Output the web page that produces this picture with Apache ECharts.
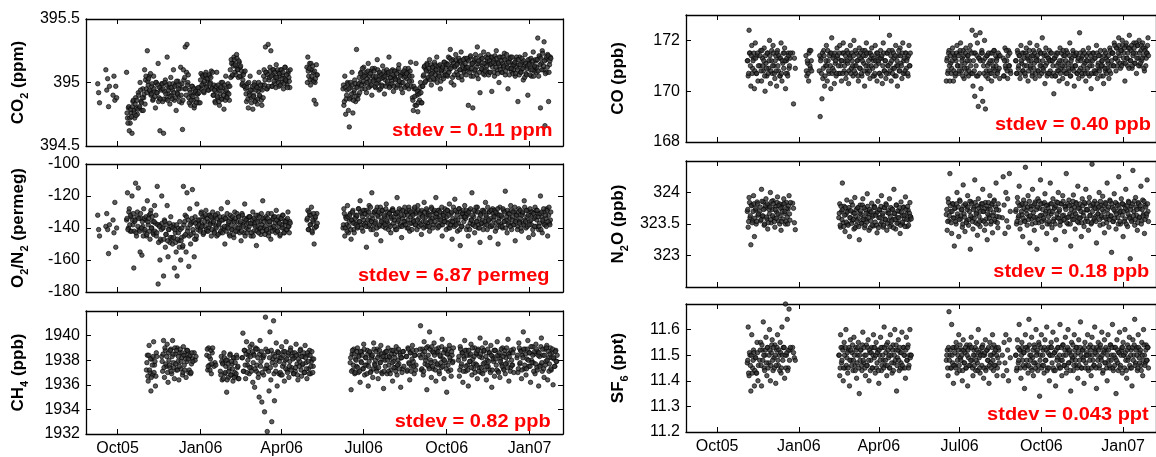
<!DOCTYPE html>
<html>

<head>
    <meta charset="utf-8">
    <title>stdev of flask records</title>
    <style>
        html, body { margin: 0; padding: 0; background: #fff; overflow: hidden; }
        #main { width: 1156px; height: 457px; }
    </style>
</head>

<body>
    <div id="main"></div>
    <script type="text/javascript" src="https://cdn.jsdelivr.net/npm/echarts@6.0.0/dist/echarts.min.js"></script>
    <script type="text/javascript">
        // time axis, shared by all panels
        var axisStart = '2005-08-27';
        var axisEnd = '2007-02-07';
        var tickDates = ['2005-10-01', '2006-01-01', '2006-04-01', '2006-07-01', '2006-10-01', '2007-01-01'];
        var tickNames = ['Oct05', 'Jan06', 'Apr06', 'Jul06', 'Oct06', 'Jan07'];

        // y ticks
        var co2Ticks = [394.5, 395, 395.5];
        var o2Ticks = [-180, -160, -140, -120, -100];
        var ch4Ticks = [1932, 1934, 1936, 1938, 1940];
        var coTicks = [168, 170, 172];
        var n2oTicks = [323, 323.5, 324];
        var sf6Ticks = [11.2, 11.3, 11.4, 11.5, 11.6];

        var stdevNotes = ['stdev = 0.11 ppm', 'stdev = 6.87 permeg', 'stdev = 0.82 ppb',
            'stdev = 0.40 ppb', 'stdev = 0.18 ppb', 'stdev = 0.043 ppt'];

        // each run: first day, then one reading per day (Am = 00h, Pm = 12h)
        var co2RunsAm = [
            ['2005-09-09', [394.99, 394.92, 394.84]],
            ['2005-09-18', [395.1, 394.94, 395.03, 394.81, 394.97]],
            ['2005-09-26', [394.9, 395.05, 394.86, 394.97, 394.88]],
            ['2005-10-11', [395.08, 394.72, 394.8, 394.62, 394.68,
                394.76, 394.6, 394.85, 394.78, 394.72, 394.88, 394.8, 394.75,
                394.92, 394.8, 395.0, 394.85, 394.78, 394.95, 394.88, 395.1,
                395.02, 394.95, 395.25, 394.98, 395.05, 394.93,
                394.9, 394.97, 394.86, 395.05, 394.93, 394.8, 395.0, 394.92, 395.15, 394.88, 394.62, 394.95, 394.99, 394.85, 394.6, 394.93, 395.02, 394.87,
                395.2, 394.91, 394.96, 394.83, 395.04, 394.9, 394.94, 395.1, 394.86, 394.98, 394.78, 394.92, 395.01, 394.89, 394.95, 395.12, 394.84, 394.63,
                395.1, 394.95, 395.28, 394.9, 395.3, 395.0,
                394.88, 394.94, 394.82, 394.9, 394.97, 394.86, 394.8, 394.92, 394.95, 394.87, 394.91, 394.84, 394.96,
                395.02, 394.95, 395.06, 394.99, 394.92, 395.04, 395.08, 394.97, 395.01, 394.94, 395.05, 395.0, 395.09, 394.96,
                394.9, 394.98, 394.85, 394.93, 395.08, 394.88, 394.95, 394.82, 394.91, 395.0, 394.87, 394.96, 394.79, 394.93, 395.05, 394.89, 394.92, 394.97, 394.86,
                395.1, 395.18, 395.05, 395.15, 395.2, 395.08, 395.13, 395.22, 395.1, 395.04, 395.16, 395.12,
                395.05, 394.98, 395.02, 395.08, 394.97,
                394.95, 394.85, 394.99, 394.8, 394.92, 395.05, 394.88, 394.94, 394.79, 394.9, 395.0, 394.86, 394.97, 394.83, 394.93, 395.08, 394.89, 394.95, 394.82, 394.98,
                395.05, 394.98, 395.28, 395.08, 394.95, 395.3, 395.02, 395.12, 395.25, 394.97, 395.06, 395.1, 394.99, 395.04, 395.14,
                395.02, 395.08, 394.97, 395.05, 395.1, 395.0, 395.06, 394.95, 395.03, 395.12, 395.01, 394.98, 395.07, 395.04, 394.96]],
            ['2006-04-29', [395.12, 395.2, 395.05, 395.15, 394.98, 395.1, 395.02, 395.08, 394.86, 395.0, 394.83, 395.06]],
            ['2006-06-08', [394.95, 394.82, 395.05, 394.75, 394.9, 395.0, 394.78, 394.65, 394.96, 394.88, 395.08, 394.76, 394.92, 395.02, 394.85, 395.26, 394.97, 394.9, 395.04,
                395.0, 395.08, 394.95, 395.04, 395.12, 394.99, 395.06, 394.92, 395.03, 395.15, 395.01, 394.97, 395.09, 394.9, 395.05, 395.02, 395.11, 394.96, 395.04, 395.18,
                395.0, 394.94, 395.07, 395.03, 394.98, 395.13, 395.05, 394.91, 395.02, 395.08, 394.99, 395.06, 395.2, 394.97, 395.04, 395.01, 395.1, 394.93, 395.05, 395.03,
                394.96, 395.09, 395.02, 395.14, 394.98, 395.06, 395.0, 394.92, 395.07, 395.04, 395.11, 394.97, 395.03, 395.08, 394.95, 395.05, 395.16, 395.01,
                394.88, 394.78, 394.95, 394.82, 395.15, 394.9, 394.77, 394.93, 394.86, 395.0, 394.84, 394.97,
                395.05, 395.12, 395.0, 395.1, 395.15, 395.03, 395.09, 395.18, 395.06, 394.98, 395.12, 395.08, 395.02, 395.14, 395.1, 395.2, 395.04, 395.07, 395.13, 394.95, 395.09, 395.11, 395.05, 395.16, 395.08, 395.12,
                395.15, 395.05, 395.2, 395.1, 395.26, 395.0, 395.13, 395.18, 394.98, 395.12, 395.22, 395.08, 395.15, 395.04, 395.17, 395.1, 395.24, 395.02, 395.14, 395.09, 395.19, 395.11,
                395.12, 395.18, 394.82, 395.1, 395.2, 395.05, 395.14, 394.8, 395.16, 395.09, 395.22, 395.12, 395.28, 395.03, 395.15, 394.92, 395.18, 395.1, 395.13, 395.24, 395.06, 395.15,
                395.1, 395.17, 395.22, 395.08, 395.14, 395.2, 394.93, 395.12, 395.18, 395.05, 395.15, 395.25, 395.1, 395.16, 395.0, 395.13, 395.2, 395.08, 395.15, 395.12, 395.23, 395.06, 395.14, 395.18, 394.95, 395.11, 395.16, 395.2, 395.09, 395.13,
                395.1, 395.15, 395.05, 395.18, 395.12, 394.85, 395.14, 395.2, 395.08, 395.1, 395.16, 395.02, 395.13, 395.22, 395.07, 395.11, 394.9, 395.15, 395.18, 395.1, 395.05, 395.14, 395.24, 395.09, 395.12, 395.17,
                395.12, 395.35, 395.05, 395.2, 394.8, 395.15, 395.25, 395.1, 395.32, 394.66, 395.18, 395.08, 395.22, 394.85, 395.14, 395.2]]
        ];
        var co2RunsPm = [
            ['2005-10-11', [394.76, 394.68, 394.81, 394.72, 394.79,
                394.73, 394.81, 394.86, 394.76, 394.83, 394.74, 394.86, 394.79,
                394.9, 394.81, 394.94, 394.84, 394.88, 394.78, 394.91, 394.83,
                395.05, 394.92, 395.01, 395.03, 394.94, 395.07,
                394.91, 394.99, 394.87, 394.95, 394.89, 395.0, 394.92, 394.98, 394.85, 394.96, 394.87, 394.94, 394.99, 394.95, 394.87, 395.0, 394.91, 394.98,
                394.86, 394.94, 394.99, 394.89, 394.96, 394.87, 394.99, 394.92, 394.97, 394.88, 395.01, 394.91, 394.95, 394.85, 394.98, 394.9, 394.99, 394.86,
                395.02, 395.04, 394.95, 395.08, 394.98, 395.06,
                394.84, 394.92, 394.86, 394.97, 394.89, 394.95, 394.82, 394.93, 394.84, 394.91, 394.96, 394.92, 394.84,
                395.07, 394.98, 395.05, 394.93, 395.01, 395.06, 394.96, 395.03, 394.94, 395.06, 394.99, 395.04, 394.95, 395.08,
                394.9, 394.94, 394.84, 394.97, 394.89, 394.98, 394.85, 394.94, 394.96, 394.87, 395.0, 394.9, 394.98, 394.86, 394.94, 394.88, 394.99, 394.91, 394.97,
                395.04, 395.15, 395.06, 395.13, 395.18, 395.14, 395.06, 395.19, 395.1, 395.17, 395.05, 395.13,
                395.09, 394.99, 395.06, 394.97, 395.09,
                394.91, 394.96, 394.87, 395.0, 394.9, 394.94, 394.84, 394.97, 394.89, 394.98, 394.85, 394.94, 394.96, 394.87, 395.0, 394.9, 394.98, 394.86, 394.94, 394.88,
                395.1, 395.02, 395.08, 394.95, 395.06, 394.97, 395.04, 395.09, 395.05, 394.97, 395.1, 395.01, 395.08, 394.96, 395.04,
                395.1, 395.0, 395.07, 394.98, 395.1, 395.03, 395.08, 394.99, 395.12, 395.02, 395.06, 394.96, 395.09, 395.01, 395.1]],
            ['2006-04-29', [395.0, 395.09, 395.11, 395.02, 395.15, 395.05, 395.13, 395.01, 395.09, 395.03, 395.14, 395.06]],
            ['2006-06-08', [394.98, 394.85, 394.96, 394.87, 394.94, 394.99, 394.95, 394.87, 395.0, 394.91, 394.98, 394.86, 394.94, 394.99, 394.89, 394.96, 394.87, 394.99, 394.92,
                395.07, 394.98, 395.11, 395.01, 395.05, 394.95, 395.08, 395.0, 395.09, 394.96, 395.05, 395.07, 394.98, 395.11, 395.01, 395.09, 394.97, 395.05, 394.99, 395.1,
                395.02, 395.08, 394.95, 395.06, 394.97, 395.04, 395.09, 395.05, 394.97, 395.1, 395.01, 395.08, 394.96, 395.04, 395.09, 394.99, 395.06, 394.97, 395.09, 395.02,
                395.07, 394.98, 395.11, 395.01, 395.05, 394.95, 395.08, 395.0, 395.09, 394.96, 395.05, 395.07, 394.98, 395.11, 395.01, 395.09, 394.97, 395.05,
                394.86, 394.97, 394.89, 394.95, 394.82, 394.93, 394.84, 394.91, 394.96, 394.92, 394.84, 394.97,
                395.06, 395.13, 395.01, 395.09, 395.14, 395.04, 395.11, 395.02, 395.14, 395.07, 395.12, 395.03, 395.16, 395.06, 395.1, 395.0, 395.13, 395.05, 395.14, 395.01, 395.1, 395.12, 395.03, 395.16, 395.06, 395.14,
                395.06, 395.14, 395.08, 395.19, 395.11, 395.17, 395.04, 395.15, 395.06, 395.13, 395.18, 395.14, 395.06, 395.19, 395.1, 395.17, 395.05, 395.13, 395.18, 395.08, 395.15, 395.06,
                395.19, 395.12, 395.17, 395.08, 395.21, 395.11, 395.15, 395.05, 395.18, 395.1, 395.19, 395.06, 395.15, 395.17, 395.08, 395.21, 395.11, 395.19, 395.07, 395.15, 395.09, 395.2,
                395.13, 395.19, 395.06, 395.17, 395.08, 395.15, 395.2, 395.16, 395.08, 395.21, 395.12, 395.19, 395.07, 395.15, 395.2, 395.1, 395.17, 395.08, 395.2, 395.13, 395.18, 395.09, 395.22, 395.12, 395.16, 395.06, 395.19, 395.11, 395.2, 395.07,
                395.14, 395.16, 395.07, 395.2, 395.1, 395.18, 395.06, 395.14, 395.08, 395.19, 395.11, 395.17, 395.04, 395.15, 395.06, 395.13, 395.18, 395.14, 395.06, 395.19, 395.1, 395.17, 395.05, 395.13, 395.18, 395.08,
                395.18, 395.09, 395.21, 395.14, 395.19, 395.1, 395.23, 395.13, 395.17, 395.07, 395.2, 395.12, 395.21, 395.08, 395.17, 395.19]]
        ];

        var o2RunsAm = [
            ['2005-09-09', [-132, -141, -145]],
            ['2005-09-18', [-139, -131, -141, -156, -138]],
            ['2005-09-26', [-135, -143, -124, -152, -140]],
            ['2005-10-11', [-135, -118, -140, -128, -142, -133, -120, -138,
                -165, -136, -112, -145, -130, -115, -141, -155, -134, -157,
                -139, -128, -142, -135, -145, -123, -138, -132, -147, -129, -140, -136, -144, -126, -137,
                -145, -114, -175, -138, -160, -148, -120, -140, -170, -135, -152, -144, -126, -158, -141, -149, -133, -146,
                -150, -138, -165, -143, -155, -170, -140, -148, -136, -160, -146, -152,
                -114, -145, -132, -155, -118, -140, -164, -128, -150, -137, -116, -143, -158, -133, -147, -125, -141, -136,
                -135, -141, -130, -138, -144, -133, -139, -129, -142, -136, -140, -132, -137, -145, -134,
                -137, -142, -133, -139, -145, -131, -138, -136, -143, -128, -140, -135, -141, -150, -134, -139, -124, -137, -144, -132,
                -138, -141, -135, -146, -130, -139, -136, -142, -133, -140, -137, -148, -131, -138, -143, -125, -136, -140, -134, -141,
                -139, -133, -145, -137, -130, -142, -138, -135, -151, -139, -132, -141, -136, -144, -138, -123, -140, -134, -139, -142,
                -136, -131, -143, -138, -147, -135, -140, -133, -141, -137, -129, -142, -136, -139, -145, -134, -138, -132, -140, -143,
                -137, -135, -141, -130, -139, -136]],
            ['2006-04-29', [-135, -129, -141, -132, -138, -127, -143, -136, -150, -134, -139, -131]],
            ['2006-06-08', [-140, -128, -145, -133, -138, -126, -143, -136, -131, -147, -135, -129, -141, -137, -132,
                -133, -140, -128, -136, -123, -138, -131, -142, -135, -129, -137, -152, -132, -139, -126, -135, -141, -118, -134, -138,
                -130, -136, -144, -127, -133, -139, -131, -148, -135, -129, -137, -133, -140, -125, -136, -132, -138, -130, -143, -134,
                -128, -137, -135, -141, -131, -121, -136, -133, -139, -129, -146, -134, -138, -132, -136, -130, -140, -135, -127, -142,
                -133, -137, -131,
                -135, -128, -138, -131, -141, -126, -134, -137, -130, -144, -132, -136, -124, -139, -133, -129, -137, -131, -142, -135,
                -127, -134, -138, -130, -136, -121, -133, -140, -129, -135, -132, -138, -145, -131, -134, -128, -136,
                -133, -129, -140, -125, -136, -131, -147, -134, -138, -122, -135, -130, -142, -137, -128, -151, -133, -139, -131, -136,
                -126, -134, -141, -132, -145, -129, -137, -135, -118, -138, -133, -143, -130, -136, -127, -140, -134, -149, -131, -137,
                -135, -129, -138, -124, -133, -141, -136, -130, -146, -134, -139, -128, -135, -132, -142, -137, -131, -150, -134, -127,
                -138, -133, -140, -129, -136, -117, -135, -143, -131, -137, -134, -126, -141, -133, -138, -130, -148, -135, -132, -139,
                -128, -136, -134, -142, -131, -137, -123, -135, -140, -133, -129, -146, -136, -132, -138, -130, -144, -134, -127, -139,
                -135, -131, -141, -137, -120, -133, -143, -136, -130, -138, -134, -128, -145, -132, -137, -135]]
        ];
        var o2RunsPm = [
            ['2005-10-11', [-134, -141, -130, -138, -132, -142, -135, -131,
                -142, -135, -143, -133, -139, -134, -142, -131, -140, -136,
                -145, -134, -141, -133, -144, -136, -134, -142, -131, -140, -133, -143, -136, -142, -132,
                -143, -138, -149, -139, -147, -141, -137, -140, -147, -136, -144, -138, -148, -141, -137, -146, -139, -147,
                -140, -146, -141, -149, -138, -147, -143, -152, -141, -148, -140, -151,
                -138, -136, -144, -133, -142, -135, -145, -138, -144, -134, -141, -136, -147, -137, -145, -139, -135, -138,
                -142, -131, -139, -133, -143, -136, -132, -141, -134, -142, -132, -138, -133, -141, -130,
                -136, -143, -132, -140, -134, -144, -137, -133, -142, -135, -143, -133, -139, -134, -142, -131, -140, -136, -145, -134,
                -141, -133, -144, -136, -134, -142, -131, -140, -133, -143, -136, -142, -132, -139, -134, -145, -135, -143, -137, -133,
                -133, -137, -143, -135, -145, -134, -139, -132, -142, -136, -143, -133, -140, -131, -142, -134, -136, -144, -133, -141,
                -134, -145, -136, -140, -131, -142, -134, -139, -133, -143, -135, -142, -133, -137, -144, -134, -140, -132, -143, -136,
                -136, -141, -134, -139, -143, -137]],
            ['2006-04-29', [-134, -141, -130, -138, -132, -142, -135, -131, -140, -133, -139, -137]],
            ['2006-06-08', [-138, -131, -140, -134, -142, -133, -139, -132, -141, -135, -130, -137, -143, -134, -138,
                -132, -139, -128, -136, -130, -140, -133, -129, -138, -131, -139, -129, -135, -130, -138, -127, -136, -132, -141, -130,
                -137, -129, -140, -132, -130, -138, -127, -136, -129, -139, -132, -138, -128, -135, -130, -141, -131, -139, -133, -129,
                -129, -133, -139, -131, -141, -130, -135, -128, -138, -132, -139, -129, -136, -127, -138, -130, -132, -140, -129, -137,
                -130, -141, -132, -136, -127, -138, -130, -135, -129, -139, -131, -138, -129, -133, -140, -130, -136, -128, -139, -132,
                -139, -132, -136, -128, -140, -130, -129, -133, -131, -138, -129, -139, -130, -135, -127, -138, -132, -136, -130, -141,
                -129, -137, -132, -140, -138, -130, -136, -127, -139, -129, -138, -132, -135, -128, -141, -130, -139, -131, -129, -133,
                -133, -129, -131, -139, -130, -141, -128, -135, -132, -138, -129, -139, -127, -136, -130, -138, -140, -132, -137, -129,
                -141, -130, -136, -132, -138, -127, -135, -130, -139, -129, -138, -131, -133, -129, -130, -140, -128, -136, -132, -139,
                -132, -139, -128, -136, -130, -140, -133, -129, -138, -131, -139, -129, -135, -130, -138, -127, -136, -132, -141, -130,
                -137, -129, -140, -132, -130, -138, -127, -136, -129, -139, -132, -138, -128, -135, -130, -141, -131, -139, -133, -129,
                -129, -133, -139, -131, -141, -130, -135, -128, -138, -132, -139, -129, -136, -127, -138, -130]]
        ];

        var ch4RunsAm = [
            ['2005-11-02', [1937.2, 1938.4, 1936.3, 1939.2, 1937.0, 1935.5, 1938.1, 1936.8, 1939.5, 1937.6, 1935.9, 1938.6]],
            ['2005-11-19', [1938.3, 1937.1, 1939.6, 1936.6, 1938.8, 1937.5, 1939.3, 1936.2, 1938.0, 1937.4,
                1938.9, 1936.9, 1939.6, 1937.8, 1936.5, 1938.5, 1937.2, 1939.0, 1937.9, 1936.4,
                1938.6, 1937.3, 1938.2, 1936.8, 1939.1, 1937.6, 1938.4, 1936.6, 1937.9, 1938.7,
                1937.0, 1938.3, 1936.9, 1937.7, 1938.1]],
            ['2005-12-25', [1938.6, 1938.0, 1938.3]],
            ['2006-01-08', [1938.4, 1937.2, 1939.0, 1937.6, 1938.1, 1936.9, 1938.6]],
            ['2006-01-16', [1937.5, 1937.8, 1937.6]],
            ['2006-01-23', [1937.1, 1938.3, 1936.4, 1937.8, 1938.6, 1936.9, 1937.5, 1935.4, 1938.0, 1936.6, 1937.3, 1938.5, 1936.8, 1937.7, 1936.3, 1938.2, 1937.0, 1936.7, 1938.4, 1937.4, 1936.5]],
            ['2006-02-16', [1938.2, 1940.2, 1937.1, 1938.8, 1936.5, 1939.5, 1937.6, 1938.4, 1936.9, 1939.1,
                1937.4, 1939.3, 1936.2, 1938.5, 1935.8, 1939.0, 1937.1, 1938.9, 1936.6, 1935.0,
                1939.6, 1937.9, 1934.6, 1938.3, 1936.8, 1933.8, 1941.5, 1937.3, 1932.2, 1938.7,
                1935.5, 1940.3, 1936.4, 1933.0, 1938.1, 1941.2, 1934.7, 1937.6, 1939.4, 1935.9, 1938.6, 1936.9,
                1938.2, 1936.8, 1939.1, 1937.5, 1938.7, 1936.3, 1938.0, 1939.5, 1937.2, 1938.4,
                1936.6, 1937.9, 1939.0, 1937.4, 1938.6, 1936.9, 1938.2, 1937.1, 1939.3, 1937.7,
                1936.4, 1938.5, 1937.9, 1938.9, 1936.7, 1937.6, 1938.3, 1937.0, 1939.2, 1937.8,
                1936.5, 1938.4, 1937.3, 1938.8, 1936.9, 1937.9, 1938.1, 1937.5]],
            ['2006-06-16', [1937.8, 1935.6, 1938.5, 1937.2, 1938.9, 1936.9, 1938.1, 1937.5, 1939.0, 1937.0, 1938.4, 1936.2, 1937.9, 1938.7, 1937.3, 1939.3, 1936.8, 1938.2, 1937.6, 1938.8,
                1935.9, 1937.9, 1938.6, 1937.1, 1938.3, 1936.6, 1939.4, 1937.7, 1938.0, 1937.3, 1938.9, 1936.5, 1938.4, 1937.8, 1939.2, 1937.0, 1938.1, 1935.7, 1938.6, 1937.5,
                1938.3, 1936.9, 1939.0, 1937.6, 1938.2, 1937.2, 1938.8, 1936.3, 1937.9, 1938.5, 1937.4, 1939.1, 1936.8, 1938.0, 1937.7, 1938.6, 1935.8, 1938.2, 1937.3, 1938.7]],
            ['2006-08-17', [1938.3, 1937.1, 1939.0, 1937.8, 1936.4, 1938.6, 1937.5, 1939.2, 1937.9, 1936.9, 1938.4, 1937.6]],
            ['2006-09-01', [1938.4, 1940.8, 1937.2, 1938.9, 1936.8, 1939.5, 1937.7, 1938.2, 1935.6, 1939.1, 1937.5, 1940.3, 1938.0, 1936.6, 1938.7, 1937.3, 1939.4, 1937.9, 1936.3, 1938.6,
                1937.6, 1939.0, 1936.9, 1938.3, 1937.4, 1939.7, 1938.1, 1936.5, 1938.8, 1937.8, 1935.4, 1938.5, 1937.1, 1939.2, 1938.0, 1936.7, 1938.4, 1937.9]],
            ['2006-10-14', [1938.0, 1936.7, 1939.1, 1937.5, 1938.6, 1936.2, 1938.3, 1939.6, 1937.1, 1938.8, 1937.6, 1935.9, 1938.4, 1937.9, 1939.3, 1936.8, 1938.1, 1937.3, 1939.0, 1937.7,
                1938.5, 1936.5, 1938.9, 1937.4, 1939.8, 1937.0, 1938.2, 1936.9, 1938.7, 1937.8, 1939.4, 1936.4, 1938.0, 1937.5, 1938.6, 1937.2, 1939.2, 1935.8, 1938.3, 1937.9,
                1936.7, 1938.8, 1937.6, 1939.5, 1937.1, 1938.4, 1936.6, 1938.1, 1937.7, 1939.0, 1937.3, 1938.5, 1936.9, 1938.2, 1937.8, 1939.7, 1936.3, 1938.6, 1937.4, 1938.0,
                1937.6, 1938.9]],
            ['2006-12-18', [1938.2, 1937.0, 1939.4, 1937.7, 1938.8, 1936.5, 1938.4, 1940.3, 1937.3, 1938.9, 1936.8, 1938.1, 1939.6, 1937.5, 1938.6, 1936.2, 1938.0, 1939.1, 1937.8, 1938.5,
                1936.9, 1939.3, 1937.4, 1938.7, 1935.9, 1938.3, 1937.6, 1939.8, 1937.1, 1938.4, 1936.6, 1938.9, 1937.9, 1939.2, 1936.4, 1938.2, 1937.7, 1939.0, 1937.2, 1938.6,
                1936.0, 1938.1, 1937.5, 1938.8, 1937.9]]
        ];
        var ch4RunsPm = [
            ['2005-11-02', [1937.8, 1936.7, 1938.4, 1937.2, 1938.1, 1936.6, 1937.6, 1938.3, 1937.0, 1937.9, 1936.7, 1938.3]],
            ['2005-11-19', [1937.9, 1938.5, 1937.4, 1939.0, 1937.7, 1938.3, 1937.0, 1938.6, 1937.6, 1938.8, 1937.1, 1938.3, 1938.5, 1937.4, 1939.0, 1937.7, 1938.8, 1937.2,
                1938.3, 1937.5, 1938.9, 1937.9, 1938.6, 1937.0, 1938.4, 1937.2, 1938.1, 1938.8, 1938.8, 1938.1, 1937.2, 1938.4, 1937.0, 1938.6, 1937.9]],
            ['2006-01-08', [1938.9, 1937.5, 1938.3, 1937.2, 1938.8, 1937.7, 1939.0]],
            ['2006-01-23', [1936.8, 1937.9, 1937.7, 1936.5, 1938.2, 1937.0, 1938.0, 1936.4, 1937.7, 1937.1, 1938.4, 1936.8, 1937.9, 1937.3, 1938.2, 1936.6, 1937.8, 1936.9, 1938.2, 1937.5, 1936.5]],
            ['2006-02-16', [1938.2, 1937.1, 1938.8, 1937.6, 1938.5, 1937.0, 1938.0, 1938.7, 1937.4, 1938.3, 1937.1, 1938.7, 1937.8, 1938.4, 1937.3, 1938.9, 1937.6, 1938.2, 1936.9, 1938.5,
                1937.5, 1938.7, 1937.0, 1938.2, 1938.4, 1937.3, 1938.9, 1937.6, 1938.7, 1937.1, 1938.2, 1937.4, 1938.8, 1937.8, 1938.5, 1936.9, 1938.3, 1937.1, 1938.0, 1938.7,
                1938.6, 1937.9, 1937.0, 1938.2, 1936.8, 1938.4, 1937.7, 1938.7, 1937.3, 1938.1, 1937.0, 1938.6, 1937.5, 1938.8, 1937.2, 1938.3, 1938.1, 1936.9, 1938.6, 1937.4,
                1938.4, 1936.8, 1938.1, 1937.5, 1938.8, 1937.2, 1938.3, 1937.7, 1938.6, 1937.0, 1938.2, 1937.3, 1938.6, 1937.9, 1936.9, 1938.4, 1937.5, 1938.7, 1937.0, 1938.1]],
            ['2006-06-16', [1938.2, 1937.1, 1938.8, 1937.6, 1938.5, 1937.0, 1938.0, 1938.7, 1937.4, 1938.3, 1937.1, 1938.7, 1937.8, 1938.4, 1937.3, 1938.9, 1937.6, 1938.2, 1936.9, 1938.5,
                1937.5, 1938.7, 1937.0, 1938.2, 1938.4, 1937.3, 1938.9, 1937.6, 1938.7, 1937.1, 1938.2, 1937.4, 1938.8, 1937.8, 1938.5, 1936.9, 1938.3, 1937.1, 1938.0, 1938.7,
                1938.7, 1938.0, 1937.1, 1938.3, 1936.9, 1938.5, 1937.8, 1938.8, 1937.4, 1938.2, 1937.1, 1938.7, 1937.6, 1938.9, 1937.3, 1938.4, 1938.2, 1937.0, 1938.7, 1937.5]],
            ['2006-08-17', [1938.3, 1937.2, 1938.9, 1937.7, 1938.6, 1937.1, 1938.1, 1938.8, 1937.5, 1938.4, 1937.2, 1938.8]],
            ['2006-09-01', [1938.9, 1938.2, 1937.3, 1938.5, 1937.1, 1938.7, 1938.0, 1939.0, 1937.6, 1938.4, 1937.3, 1938.9, 1937.8, 1939.1, 1937.5, 1938.6, 1938.4, 1937.2, 1938.9,
                1937.7, 1938.7, 1937.1, 1938.4, 1937.8, 1939.1, 1937.5, 1938.6, 1938.0, 1938.9, 1937.3, 1938.5, 1937.6, 1938.9, 1938.2, 1937.2, 1938.7, 1937.8, 1939.0]],
            ['2006-10-14', [1938.3, 1937.2, 1938.9, 1937.7, 1938.6, 1937.1, 1938.1, 1938.8, 1937.5, 1938.4, 1937.2, 1938.8, 1937.9, 1938.5, 1937.4, 1939.0, 1937.7, 1938.3, 1937.0, 1938.6,
                1937.6, 1938.8, 1937.1, 1938.3, 1938.5, 1937.4, 1939.0, 1937.7, 1938.8, 1937.2, 1938.3, 1937.5, 1938.9, 1937.9, 1938.6, 1937.0, 1938.4, 1937.2, 1938.1, 1938.8,
                1938.8, 1938.1, 1937.2, 1938.4, 1937.0, 1938.6, 1937.9, 1938.9, 1937.5, 1938.3, 1937.2, 1938.8, 1937.7, 1939.0, 1937.4, 1938.5, 1938.3, 1937.1, 1938.8, 1937.6,
                1938.6, 1937.0]],
            ['2006-12-18', [1938.4, 1937.3, 1939.0, 1937.8, 1938.7, 1937.2, 1938.2, 1938.9, 1937.6, 1938.5, 1937.3, 1938.9, 1938.0, 1938.6, 1937.5, 1939.1, 1937.8, 1938.4, 1937.1, 1938.7,
                1937.7, 1938.9, 1937.2, 1938.4, 1938.6, 1937.5, 1939.1, 1937.8, 1938.9, 1937.3, 1938.4, 1937.6, 1939.0, 1938.0, 1938.7, 1937.1, 1938.5, 1937.3, 1938.2, 1938.9,
                1938.2, 1937.5, 1938.7, 1937.9, 1938.4]]
        ];

        var coRunsAm = [
            ['2005-11-04', [171.2, 170.6, 172.4, 171.5, 170.2, 171.8, 170.9, 171.3, 170.1, 171.9, 170.7, 171.4, 170.4]],
            ['2005-11-18', [171.0, 171.6, 170.4, 171.3, 170.8, 171.7, 170.0, 171.1, 170.6, 171.5, 170.9, 172.0, 170.3, 171.2, 170.7, 171.8, 171.0, 170.5, 171.4, 170.2,
                171.6, 170.8, 171.3, 170.6, 171.9, 170.4, 171.1, 170.9, 171.7, 170.1, 171.2, 170.7, 171.5, 170.9, 171.3]],
            ['2005-12-25', [171.5, 169.5, 171.3, 170.9]],
            ['2006-01-09', [171.4, 170.6, 171.1, 170.4, 171.6, 170.9, 171.2]],
            ['2006-01-24', [170.8, 169.0, 171.3, 169.7, 170.5, 171.6, 170.2, 171.0, 171.8, 170.4, 171.2, 170.7, 171.5, 170.1, 172.1, 170.9, 171.4, 170.3, 171.1, 170.6, 171.7,
                171.3, 170.7, 171.8, 171.0, 170.4, 171.5, 171.9, 170.8, 171.2, 170.5, 171.6, 171.1, 170.3, 171.4, 171.8, 170.9, 171.2, 170.6, 172.0, 171.0,
                170.7, 171.5, 171.2, 170.4, 171.7, 170.9, 171.3, 170.6, 171.6, 171.1, 170.2, 171.4, 171.9, 170.8, 171.0, 171.5, 170.5, 171.3, 171.7, 170.9,
                171.2, 170.6, 171.8, 171.0, 170.4, 171.4, 171.1, 170.7, 171.6, 171.3, 170.3, 171.9, 170.8, 171.2, 170.5, 171.5, 171.0, 170.7, 172.2, 171.1,
                170.4, 171.6, 170.9, 171.3, 170.6, 171.8, 171.0, 170.2, 171.4, 170.8, 171.7, 171.1, 170.5, 171.9, 171.2, 170.7, 171.5, 170.9, 171.3, 170.6,
                171.8, 171.0]],
            ['2006-06-16', [170.4, 171.3, 170.8, 171.6, 170.4, 171.1, 170.9, 171.7, 170.4, 171.4, 170.6, 171.2, 171.8, 171.0, 170.7, 171.5, 171.9, 170.8, 171.3, 171.6,
                170.5, 171.1, 171.7, 170.9, 171.4, 170.6, 171.2, 171.8, 170.7,
                172.4, 170.2, 171.5, 169.8, 172.2, 170.6, 171.9, 169.4, 171.3, 172.3, 170.1, 171.6, 169.6, 171.0, 172.0, 169.3, 170.8, 171.4, 170.5,
                171.1, 170.7, 171.5, 170.4, 171.2, 170.9, 171.6, 170.6, 171.0, 171.3, 170.8, 171.4, 170.5]],
            ['2006-08-19', [171.3, 170.6, 171.7, 170.9, 171.2, 170.5, 171.6, 171.0, 170.8]],
            ['2006-09-02', [171.2, 170.7, 171.6, 170.9, 171.4, 170.5, 171.8, 171.1, 170.8, 171.5, 171.0, 170.6, 171.7, 171.3, 170.4, 171.2, 171.9, 170.9, 171.4, 170.7,
                171.6, 171.1, 170.5, 171.3, 171.8, 170.8, 171.2, 170.6, 171.5, 171.0, 172.1, 170.9, 171.4, 170.3, 171.7, 171.1, 170.7, 171.3, 171.6, 170.8,
                171.2, 170.6,
                171.0, 169.9, 171.3, 170.6, 171.5, 170.8, 171.1, 170.4, 171.7, 170.9, 171.2, 170.5, 171.4, 171.0, 170.7, 171.6, 170.3, 171.1, 170.8, 171.9,
                170.6, 171.3, 170.9, 171.5, 170.2, 171.0, 171.4, 170.7, 171.2, 170.5, 172.3, 170.9, 171.3, 170.6, 171.6, 170.8, 171.1, 170.4, 171.4, 170.9,
                171.7, 170.6, 171.2, 170.1, 171.0, 171.5, 170.7, 171.3, 170.8, 171.8, 170.5, 171.1, 170.9, 171.4, 170.6, 171.2, 171.0, 170.3, 171.6, 170.8,
                171.3, 170.9, 171.1, 170.5, 171.7, 170.7, 171.2,
                171.5, 171.0, 171.9, 171.3, 170.8, 171.7, 171.2, 172.1, 171.4, 170.9, 171.6, 172.0, 171.1, 171.5, 170.4, 171.8, 171.3, 171.0, 171.7, 172.2,
                171.2, 171.6, 170.9, 171.4, 171.9, 171.1, 171.5, 170.7, 171.8, 171.3, 172.0, 171.0, 171.6, 171.2, 171.9, 171.4, 170.8, 171.7, 171.3, 171.5,
                172.1]]
        ];
        var coRunsPm = [
            ['2005-11-04', [171.2, 170.7, 171.5, 171.0, 171.4, 170.7, 171.2, 171.5, 170.8, 171.3, 170.7, 171.5, 171.0]],
            ['2005-11-18', [171.4, 170.8, 171.6, 171.0, 171.2, 170.6, 171.4, 170.9, 171.5, 170.7, 171.2, 171.4, 170.8, 171.6, 171.0, 171.5, 170.7, 171.2, 170.8,
                171.5, 171.0, 171.4, 170.6, 171.3, 170.7, 171.2, 171.5, 171.5, 171.2, 170.7, 171.3, 170.6, 171.4, 171.0, 171.5]],
            ['2006-01-09', [170.8, 171.2, 170.7, 171.5, 171.0, 171.6, 170.8]],
            ['2006-01-24', [171.4, 171.2, 170.7, 171.5, 170.9, 171.4, 170.6, 171.2, 171.0, 171.6, 170.8, 171.4, 171.0, 171.5, 170.7, 171.3, 170.8, 171.5, 171.2, 170.7,
                171.4, 171.0, 171.5, 170.7, 171.2,
                171.2, 170.7, 171.5, 171.0, 171.4, 170.7, 171.2, 171.5, 170.8, 171.3, 170.7, 171.5, 171.0, 171.4, 170.8, 171.6, 171.0, 171.2, 170.6, 171.4,
                170.9, 171.5, 170.7, 171.2, 171.4, 170.8, 171.6, 171.0, 171.5, 170.7, 171.2, 170.8, 171.5, 171.0, 171.4, 170.6, 171.3, 170.7, 171.2, 171.5,
                171.5, 171.2, 170.7, 171.3, 170.6, 171.4, 171.0, 171.5, 170.8, 171.2, 170.7, 171.5, 171.0, 171.6, 170.8, 171.4, 171.2, 170.7, 171.5, 170.9,
                171.4, 170.6, 171.2, 171.0, 171.6, 170.8, 171.4, 171.0, 171.5, 170.7, 171.3, 170.8, 171.5, 171.2, 170.7, 171.4, 171.0, 171.5]],
            ['2006-06-16', [171.2, 170.7, 171.5, 171.0, 171.4, 170.7, 171.2, 171.5, 170.8, 171.3, 170.7, 171.5, 171.0, 171.4, 170.8, 171.6, 171.0, 171.2, 170.6, 171.4,
                170.9, 171.5, 170.7, 171.2, 171.4, 170.8, 171.6, 171.0, 171.5, 170.7, 171.2, 170.8, 171.5, 171.0, 171.4, 170.6, 171.3, 170.7, 171.2, 171.5,
                171.5, 171.2, 170.7, 171.3, 170.6, 171.4, 171.0, 171.5, 170.8, 171.2, 170.7, 171.5, 171.0, 171.6, 170.8, 171.4, 171.2, 170.7, 171.5, 170.9, 171.4]],
            ['2006-08-19', [170.6, 171.2, 171.0, 171.6, 170.8, 171.4, 171.0, 171.5, 170.7]],
            ['2006-09-02', [171.2, 170.7, 171.5, 171.0, 171.4, 170.7, 171.2, 171.5, 170.8, 171.3, 170.7, 171.5, 171.0, 171.4, 170.8, 171.6, 171.0, 171.2, 170.6, 171.4,
                170.9, 171.5, 170.7, 171.2, 171.4, 170.8, 171.6, 171.0, 171.5, 170.7, 171.2, 170.8, 171.5, 171.0, 171.4, 170.6, 171.3, 170.7, 171.2, 171.5,
                171.5, 171.2, 170.7, 171.3, 170.6, 171.4, 171.0, 171.5, 170.8, 171.2, 170.7, 171.5, 171.0, 171.6, 170.8, 171.4, 171.2, 170.7, 171.5, 170.9,
                171.4, 170.6, 171.2, 171.0, 171.6, 170.8, 171.4, 171.0, 171.5, 170.7, 171.3, 170.8, 171.5, 171.2, 170.7, 171.4, 171.0, 171.5, 170.7, 171.2,
                171.2, 170.7, 171.5, 171.0, 171.4, 170.7, 171.2, 171.5, 170.8, 171.3, 170.7, 171.5, 171.0, 171.4, 170.8, 171.6, 171.0, 171.2, 170.6, 171.4,
                170.9, 171.5, 170.7, 171.2, 171.4, 170.8, 171.6, 171.0, 171.5,
                171.5, 171.0, 171.8, 171.3, 171.7, 171.0, 171.5, 171.8, 171.1, 171.6, 171.0, 171.8, 171.3, 171.7, 171.1, 171.9, 171.3, 171.5, 170.9, 171.7,
                171.2, 171.8, 171.0, 171.5, 171.7, 171.1, 171.9, 171.3, 171.8, 171.0, 171.5, 171.1, 171.8, 171.3, 171.7, 170.9, 171.6, 171.0, 171.5, 171.8,
                171.4]]
        ];

        var n2oRunsAm = [
            ['2005-11-04', [323.7, 323.45, 323.92, 323.6, 323.17, 323.8, 323.55, 323.95, 323.3, 323.72, 323.5, 323.85, 323.64]],
            ['2005-11-18', [323.7, 323.55, 324.05, 323.62, 323.85, 323.48, 323.75, 323.9, 323.58, 323.42, 323.8, 323.66, 324.0, 323.52, 323.73, 323.87, 323.6, 323.45, 323.78, 323.69,
                323.93, 323.55, 323.82, 323.63, 323.4, 323.76, 323.58, 323.9, 323.67, 323.5, 323.84, 323.61, 323.74, 323.95, 323.56]],
            ['2005-12-25', [323.83, 323.75, 323.52, 323.41]],
            ['2006-02-15', [323.6, 323.82, 323.45, 323.7, 324.15, 323.52, 323.78, 323.38, 323.65, 323.88, 323.5, 323.72, 323.3, 323.6, 323.85, 323.55, 323.68, 323.42, 323.92, 323.62,
                323.48, 323.75, 323.58, 323.25, 323.8, 323.65, 323.52, 323.9, 323.6, 323.44, 323.73, 323.57, 323.98, 323.66, 323.4, 323.7, 323.55, 323.83, 323.62, 323.47,
                323.78, 323.53, 323.67, 323.36, 323.86, 323.6, 323.72, 323.5, 323.95, 323.64, 323.45, 323.76, 323.58, 323.82, 323.4, 323.68, 323.55, 323.9, 323.62, 323.48,
                323.74, 323.57, 324.05, 323.66, 323.42, 323.8, 323.6, 323.52, 323.7, 323.35, 323.85, 323.63, 323.5, 323.77, 323.58, 323.93, 323.65, 323.46, 323.72, 323.56,
                323.84, 323.61]],
            ['2006-06-16', [323.65, 323.4, 323.9, 323.55, 324.3, 323.7, 323.35, 323.82, 323.6, 323.15, 323.75, 323.5, 324.0, 323.62, 323.3, 323.88, 323.58, 323.72, 323.45, 324.12,
                323.66, 323.38, 323.8, 323.55, 323.95, 323.48, 323.7, 323.1, 323.85, 323.6, 323.42, 323.76, 324.2, 323.52, 323.68, 323.32, 323.9, 323.62, 323.46, 323.78,
                323.56, 324.05, 323.7, 323.4, 323.84, 323.58, 323.25, 323.74, 323.64, 323.95, 323.5, 323.8, 323.36, 323.68, 323.88, 323.54, 324.15, 323.62, 323.44, 323.72]],
            ['2006-08-18', [323.6, 324.25, 323.8, 323.35, 324.0, 323.55, 323.9, 323.45, 324.3, 323.7]],
            ['2006-09-02', [323.7, 323.5, 323.92, 323.6, 324.1, 323.42, 323.8, 323.65, 323.3, 323.88, 323.55, 324.4, 323.72, 323.48, 323.95, 323.62, 323.2, 323.78, 323.58, 324.05,
                323.68, 323.4, 323.85, 323.6, 323.1, 323.9, 323.52, 323.75, 324.2, 323.64, 323.45, 323.82, 323.56, 323.98, 323.7, 323.35, 323.8, 323.62, 323.5, 324.15,
                323.66, 323.44, 323.9, 323.58, 323.76, 323.25, 323.85, 323.6, 324.0, 323.7, 323.48, 323.82, 323.55, 323.95, 323.64, 323.38, 323.78, 324.3, 323.6, 323.5,
                323.88, 323.66, 323.15, 323.8, 323.57, 323.96, 323.7, 323.42, 323.84, 323.62, 324.1, 323.52, 323.75, 323.6, 323.3, 323.9, 323.68, 323.46, 323.82, 324.05,
                323.58, 323.72, 323.4, 323.92, 323.64, 323.5, 324.45, 323.78, 323.56, 323.86, 323.62, 323.2, 323.74, 323.66, 324.0, 323.48, 323.8, 323.6, 323.94, 323.7,
                323.36, 323.84, 323.58, 324.15, 323.66, 323.45, 323.88, 323.62, 323.05, 323.76, 323.54, 323.98, 323.7, 323.42, 323.82, 323.6, 324.25, 323.68, 323.5, 323.9,
                323.64, 323.3, 323.8, 323.58, 324.05, 323.72, 323.46, 323.86, 323.62, 322.95, 323.78, 323.56, 324.35, 323.7, 323.48, 323.92, 323.64, 323.4, 323.84, 323.6,
                323.74, 324.1, 323.55, 323.88, 323.66, 323.35, 323.8, 323.62, 324.2, 323.7]]
        ];
        var n2oRunsPm = [
            ['2005-11-04', [323.73, 323.54, 323.84, 323.63, 323.79, 323.52, 323.7, 323.82, 323.59, 323.75, 323.54, 323.82, 323.66]],
            ['2005-11-18', [323.77, 323.57, 323.86, 323.63, 323.73, 323.5, 323.79, 323.61, 323.82, 323.52, 323.73, 323.77, 323.57, 323.86, 323.63, 323.82, 323.54, 323.73, 323.59,
                323.84, 323.66, 323.79, 323.5, 323.75, 323.54, 323.7, 323.82, 323.82, 323.7, 323.54, 323.75, 323.5, 323.79, 323.66, 323.84]],
            ['2006-02-15', [323.67, 323.48, 323.78, 323.57, 323.73, 323.46, 323.64, 323.76, 323.53, 323.69, 323.48, 323.76, 323.6, 323.71, 323.51, 323.8, 323.57, 323.67, 323.44, 323.73,
                323.55, 323.76, 323.46, 323.67, 323.71, 323.51, 323.8, 323.57, 323.76, 323.48, 323.67, 323.53, 323.78, 323.6, 323.73, 323.44, 323.69, 323.48, 323.64, 323.76,
                323.76, 323.64, 323.48, 323.69, 323.44, 323.73, 323.6, 323.78, 323.53, 323.67, 323.48, 323.76, 323.57, 323.8, 323.51, 323.71, 323.67, 323.46, 323.76, 323.55,
                323.73, 323.44, 323.67, 323.57, 323.8, 323.51, 323.71, 323.6, 323.76, 323.48, 323.69, 323.53, 323.76, 323.64, 323.46, 323.73, 323.57, 323.78, 323.48, 323.67,
                323.62, 323.58]],
            ['2006-06-16', [323.73, 323.54, 323.84, 323.63, 323.79, 323.52, 323.7, 323.82, 323.59, 323.75, 323.54, 323.82, 323.66, 323.77, 323.57, 323.86, 323.63, 323.73, 323.5, 323.79,
                323.61, 323.82, 323.52, 323.73, 323.77, 323.57, 323.86, 323.63, 323.82, 323.54, 323.73, 323.59, 323.84, 323.66, 323.79, 323.5, 323.75, 323.54, 323.7, 323.82,
                323.82, 323.7, 323.54, 323.75, 323.5, 323.79, 323.66, 323.84, 323.59, 323.73, 323.54, 323.82, 323.63, 323.86, 323.57, 323.77, 323.73, 323.52, 323.82, 323.61]],
            ['2006-09-02', [323.73, 323.54, 323.84, 323.63, 323.79, 323.52, 323.7, 323.82, 323.59, 323.75, 323.54, 323.82, 323.66, 323.77, 323.57, 323.86, 323.63, 323.73, 323.5, 323.79,
                323.61, 323.82, 323.52, 323.73, 323.77, 323.57, 323.86, 323.63, 323.82, 323.54, 323.73, 323.59, 323.84, 323.66, 323.79, 323.5, 323.75, 323.54, 323.7, 323.82,
                323.82, 323.7, 323.54, 323.75, 323.5, 323.79, 323.66, 323.84, 323.59, 323.73, 323.54, 323.82, 323.63, 323.86, 323.57, 323.77, 323.73, 323.52, 323.82, 323.61,
                323.79, 323.5, 323.73, 323.63, 323.86, 323.57, 323.77, 323.66, 323.82, 323.54, 323.75, 323.59, 323.82, 323.7, 323.52, 323.79, 323.63, 323.84, 323.54, 323.73,
                323.73, 323.54, 323.84, 323.63, 323.79, 323.52, 323.7, 323.82, 323.59, 323.75, 323.54, 323.82, 323.66, 323.77, 323.57, 323.86, 323.63, 323.73, 323.5, 323.79,
                323.61, 323.82, 323.52, 323.73, 323.77, 323.57, 323.86, 323.63, 323.82, 323.54, 323.73, 323.59, 323.84, 323.66, 323.79, 323.5, 323.75, 323.54, 323.7, 323.82,
                323.82, 323.7, 323.54, 323.75, 323.5, 323.79, 323.66, 323.84, 323.59, 323.73, 323.54, 323.82, 323.63, 323.86, 323.57, 323.77, 323.73, 323.52, 323.82, 323.61,
                323.79, 323.5, 323.73, 323.63, 323.86, 323.57, 323.77, 323.66, 323.82, 323.54]]
        ];

        var sf6RunsAm = [
            ['2005-11-04', [11.47, 11.61, 11.42, 11.5, 11.36, 11.58, 11.45, 11.52, 11.38, 11.49, 11.43, 11.55, 11.4]],
            ['2005-11-18', [11.48, 11.55, 11.38, 11.52, 11.63, 11.45, 11.5, 11.57, 11.42, 11.53, 11.47, 11.6, 11.4, 11.51, 11.56, 11.44, 11.49, 11.54, 11.39, 11.52,
                11.58, 11.46, 11.5, 11.55, 11.43, 11.61, 11.48, 11.53, 11.41, 11.7, 11.5, 11.64, 11.45, 11.68, 11.52]],
            ['2005-12-25', [11.53, 11.51, 11.49, 11.48]],
            ['2006-02-15', [11.5, 11.42, 11.58, 11.47, 11.53, 11.4, 11.55, 11.45, 11.6, 11.49, 11.43, 11.52, 11.38, 11.56, 11.48, 11.51, 11.44, 11.57, 11.46, 11.53,
                11.41, 11.5, 11.55, 11.35, 11.48, 11.52, 11.44, 11.59, 11.47, 11.5, 11.42, 11.54, 11.46, 11.56, 11.4, 11.51, 11.48, 11.53, 11.45, 11.58,
                11.49, 11.43, 11.55, 11.47, 11.52, 11.39, 11.5, 11.57, 11.44, 11.53, 11.48, 11.61, 11.46, 11.51, 11.42, 11.55, 11.49, 11.45, 11.58, 11.5,
                11.43, 11.54, 11.47, 11.6, 11.52, 11.36, 11.49, 11.56, 11.44, 11.51, 11.47, 11.59, 11.45, 11.53, 11.5, 11.41, 11.57, 11.48, 11.54, 11.46,
                11.6, 11.5]],
            ['2006-06-16', [11.48, 11.52, 11.42, 11.67, 11.5, 11.45, 11.62, 11.47, 11.39, 11.53, 11.46, 11.55, 11.43, 11.5, 11.58, 11.44, 11.49, 11.52, 11.4, 11.56,
                11.47, 11.51, 11.45, 11.54, 11.38, 11.49, 11.53, 11.46, 11.57, 11.48, 11.42, 11.52, 11.5, 11.44, 11.55, 11.47, 11.6, 11.49, 11.43, 11.51,
                11.46, 11.54, 11.41, 11.5, 11.56, 11.45, 11.52, 11.48, 11.39, 11.55, 11.47, 11.5, 11.58, 11.44, 11.51, 11.46, 11.53, 11.42, 11.49, 11.52]],
            ['2006-08-18', [11.5, 11.42, 11.55, 11.47, 11.58, 11.44, 11.52, 11.4, 11.56, 11.49]],
            ['2006-09-02', [11.5, 11.44, 11.56, 11.47, 11.62, 11.52, 11.41, 11.55, 11.48, 11.51, 11.37, 11.58, 11.46, 11.53, 11.43, 11.64, 11.5, 11.45, 11.57, 11.49,
                11.42, 11.54, 11.47, 11.6, 11.51, 11.44, 11.55, 11.34, 11.5, 11.58, 11.46, 11.52, 11.43, 11.56, 11.48, 11.61, 11.45, 11.53, 11.4, 11.5,
                11.55, 11.47, 11.59, 11.44, 11.51, 11.38, 11.56, 11.49, 11.53, 11.45, 11.62, 11.48, 11.42, 11.54, 11.5, 11.46, 11.57, 11.43, 11.52, 11.6,
                11.47, 11.51, 11.36, 11.55, 11.49, 11.44, 11.58, 11.5, 11.46, 11.53, 11.41, 11.56, 11.48, 11.63, 11.45, 11.52, 11.49, 11.39, 11.55, 11.47,
                11.51, 11.58, 11.44, 11.5, 11.54, 11.42, 11.57, 11.48, 11.46, 11.61, 11.52, 11.37, 11.5, 11.55, 11.45, 11.53, 11.49, 11.59, 11.43, 11.51,
                11.56, 11.47, 11.52, 11.4, 11.58, 11.48, 11.45, 11.54, 11.5, 11.62, 11.44, 11.53, 11.49, 11.35, 11.56, 11.47, 11.51, 11.59, 11.46, 11.52,
                11.43, 11.55, 11.5, 11.6, 11.48, 11.41, 11.54, 11.49, 11.57, 11.45, 11.52, 11.38, 11.56, 11.5, 11.64, 11.47, 11.53, 11.44, 11.58, 11.49,
                11.51, 11.46, 11.55, 11.42, 11.6, 11.5, 11.47, 11.54, 11.48, 11.53]]
        ];
        var sf6RunsPm = [
            ['2005-11-04', [11.48, 11.43, 11.51, 11.46, 11.5, 11.43, 11.48, 11.51, 11.44, 11.49, 11.43, 11.51, 11.46]],
            ['2005-11-18', [11.52, 11.46, 11.54, 11.48, 11.5, 11.44, 11.52, 11.47, 11.53, 11.45, 11.5, 11.52, 11.46, 11.54, 11.48, 11.53, 11.45, 11.5, 11.46,
                11.53, 11.48, 11.52, 11.44, 11.51, 11.45, 11.5, 11.53, 11.53, 11.5, 11.45, 11.51, 11.44, 11.52, 11.48, 11.53]],
            ['2006-02-15', [11.5, 11.45, 11.53, 11.48, 11.52, 11.45, 11.5, 11.53, 11.46, 11.51, 11.45, 11.53, 11.48, 11.52, 11.46, 11.54, 11.48, 11.5, 11.44, 11.52,
                11.47, 11.53, 11.45, 11.5, 11.52, 11.46, 11.54, 11.48, 11.53, 11.45, 11.5, 11.46, 11.53, 11.48, 11.52, 11.44, 11.51, 11.45, 11.5, 11.53,
                11.53, 11.5, 11.45, 11.51, 11.44, 11.52, 11.48, 11.53, 11.46, 11.5, 11.45, 11.53, 11.48, 11.54, 11.46, 11.52, 11.5, 11.45, 11.53, 11.47,
                11.52, 11.44, 11.5, 11.48, 11.54, 11.46, 11.52, 11.48, 11.53, 11.45, 11.51, 11.46, 11.53, 11.5, 11.45, 11.52, 11.48, 11.53, 11.45, 11.5,
                11.49, 11.5]],
            ['2006-06-16', [11.5, 11.45, 11.53, 11.48, 11.52, 11.45, 11.5, 11.53, 11.46, 11.51, 11.45, 11.53, 11.48, 11.52, 11.46, 11.54, 11.48, 11.5, 11.44, 11.52,
                11.47, 11.53, 11.45, 11.5, 11.52, 11.46, 11.54, 11.48, 11.53, 11.45, 11.5, 11.46, 11.53, 11.48, 11.52, 11.44, 11.51, 11.45, 11.5, 11.53,
                11.53, 11.5, 11.45, 11.51, 11.44, 11.52, 11.48, 11.53, 11.46, 11.5, 11.45, 11.53, 11.48, 11.54, 11.46, 11.52, 11.5, 11.45, 11.53, 11.47]],
            ['2006-09-02', [11.5, 11.45, 11.53, 11.48, 11.52, 11.45, 11.5, 11.53, 11.46, 11.51, 11.45, 11.53, 11.48, 11.52, 11.46, 11.54, 11.48, 11.5, 11.44, 11.52,
                11.47, 11.53, 11.45, 11.5, 11.52, 11.46, 11.54, 11.48, 11.53, 11.45, 11.5, 11.46, 11.53, 11.48, 11.52, 11.44, 11.51, 11.45, 11.5, 11.53,
                11.53, 11.5, 11.45, 11.51, 11.44, 11.52, 11.48, 11.53, 11.46, 11.5, 11.45, 11.53, 11.48, 11.54, 11.46, 11.52, 11.5, 11.45, 11.53, 11.47,
                11.52, 11.44, 11.5, 11.48, 11.54, 11.46, 11.52, 11.48, 11.53, 11.45, 11.51, 11.46, 11.53, 11.5, 11.45, 11.52, 11.48, 11.53, 11.45, 11.5,
                11.5, 11.45, 11.53, 11.48, 11.52, 11.45, 11.5, 11.53, 11.46, 11.51, 11.45, 11.53, 11.48, 11.52, 11.46, 11.54, 11.48, 11.5, 11.44, 11.52,
                11.47, 11.53, 11.45, 11.5, 11.52, 11.46, 11.54, 11.48, 11.53, 11.45, 11.5, 11.46, 11.53, 11.48, 11.52, 11.44, 11.51, 11.45, 11.5, 11.53,
                11.53, 11.5, 11.45, 11.51, 11.44, 11.52, 11.48, 11.53, 11.46, 11.5, 11.45, 11.53, 11.48, 11.54, 11.46, 11.52, 11.5, 11.45, 11.53, 11.47,
                11.52, 11.44, 11.5, 11.48, 11.54, 11.46, 11.52, 11.48, 11.53, 11.45]]
        ];

        var DAY = 86400000;
        var FONT = '"Liberation Sans", Arial, Helvetica, sans-serif';

        var toTime = function(s) {
            return Date.parse(s + 'T00:00:00Z');
        };
        var tickTimes = tickDates.map(toTime);

        var runsToPoints = function(runs, offset, pts) {
            runs.forEach(function(run) {
                var t0 = toTime(run[0]) + offset;
                run[1].forEach(function(v, i) {
                    pts.push([t0 + i * DAY, v]);
                });
            });
            return pts;
        };

        // box = [left, top, width, height], noteAt = [right edge, text baseline]
        var panels = [
            { label: '{b|CO}{s|2}{b| (ppm)}', am: co2RunsAm, pm: co2RunsPm, min: 394.5, max: 395.5, ticks: co2Ticks, note: stdevNotes[0], box: [86, 19, 477, 127], noteAt: [552.5, 136.7], xLabels: false },
            { label: '{b|O}{s|2}{b|/N}{s|2}{b| (permeg)}', am: o2RunsAm, pm: o2RunsPm, min: -180, max: -100, ticks: o2Ticks, note: stdevNotes[1], box: [86, 164, 477, 128], noteAt: [549.5, 281.6], xLabels: false },
            { label: '{b|CH}{s|4}{b| (ppb)}', am: ch4RunsAm, pm: ch4RunsPm, min: 1932, max: 1942, ticks: ch4Ticks, note: stdevNotes[2], box: [86, 311, 477, 127], noteAt: [550.7, 427.6], xLabels: true },
            { label: '{b|CO (ppb)}', am: coRunsAm, pm: coRunsPm, min: 168, max: 173, ticks: coTicks, note: stdevNotes[3], box: [686, 15, 478, 127], noteAt: [1151, 131], xLabels: false },
            { label: '{b|N}{s|2}{b|O (ppb)}', am: n2oRunsAm, pm: n2oRunsPm, min: 322.5, max: 324.5, ticks: n2oTicks, note: stdevNotes[4], box: [686, 161, 478, 126], noteAt: [1149.3, 278.3], xLabels: false },
            { label: '{b|SF}{s|6}{b| (ppt)}', am: sf6RunsAm, pm: sf6RunsPm, min: 11.2, max: 11.7, ticks: sf6Ticks, note: stdevNotes[5], box: [686, 304, 478, 128], noteAt: [1148.7, 420.7], xLabels: true }
        ];

        var frameLine = { color: '#000', width: 1.3 };
        var tickLine = { color: '#000', width: 1 };
        var nameRich = {
            b: { fontFamily: FONT, fontSize: 17, fontWeight: 'bold', color: '#000', lineHeight: 20, verticalAlign: 'top' },
            s: { fontFamily: FONT, fontSize: 11, fontWeight: 'bold', color: '#000', lineHeight: 11, verticalAlign: 'bottom' }
        };

        var grids = [], xAxes = [], yAxes = [], series = [], notes = [];

        panels.forEach(function(p, i) {
            grids.push({ left: p.box[0], top: p.box[1], width: p.box[2], height: p.box[3], containLabel: false });

            ['bottom', 'top'].forEach(function(pos) {
                xAxes.push({
                    gridIndex: i,
                    type: 'value',
                    position: pos,
                    min: toTime(axisStart),
                    max: toTime(axisEnd),
                    axisLine: { show: true, onZero: false, lineStyle: frameLine },
                    axisTick: { show: true, inside: true, length: 5, customValues: tickTimes, lineStyle: tickLine },
                    axisLabel: {
                        show: pos === 'bottom' && p.xLabels,
                        customValues: tickTimes,
                        margin: 7,
                        fontFamily: FONT,
                        fontSize: 16,
                        color: '#000',
                        formatter: function(v) {
                            return tickNames[tickTimes.indexOf(v)] || '';
                        }
                    },
                    splitLine: { show: false }
                });
            });

            ['left', 'right'].forEach(function(pos) {
                var y = {
                    gridIndex: i,
                    type: 'value',
                    position: pos,
                    min: p.min,
                    max: p.max,
                    axisLine: { show: true, onZero: false, lineStyle: frameLine },
                    axisTick: { show: true, inside: true, length: 5, customValues: p.ticks, lineStyle: tickLine },
                    axisLabel: {
                        show: pos === 'left',
                        customValues: p.ticks,
                        margin: 6,
                        fontFamily: FONT,
                        fontSize: 16,
                        color: '#000',
                        formatter: function(v) {
                            return String(v);
                        }
                    },
                    splitLine: { show: false }
                };
                if (pos === 'left') {
                    y.name = p.label;
                    y.nameLocation = 'middle';
                    y.nameRotate = 90;
                    y.nameGap = 56;
                    y.nameTextStyle = { rich: nameRich };
                }
                yAxes.push(y);
            });

            var pts = runsToPoints(p.am, 0, []);
            runsToPoints(p.pm, DAY / 2, pts);

            series.push({
                type: 'scatter',
                xAxisIndex: 2 * i,
                yAxisIndex: 2 * i,
                data: pts,
                symbol: 'circle',
                symbolSize: 4.5,
                itemStyle: { color: '#333', borderColor: '#000', borderWidth: 0.8 },
                silent: true,
                progressive: 0
            });

            notes.push({
                type: 'text',
                x: p.noteAt[0],
                y: p.noteAt[1] + 3,
                scaleX: 1.11,
                z: 100,
                silent: true,
                style: {
                    text: p.note,
                    align: 'right',
                    verticalAlign: 'bottom',
                    fill: '#ff0000',
                    font: 'bold 18px ' + FONT
                }
            });
        });

        var chart = echarts.init(document.getElementById('main'), null, { renderer: 'canvas' });
        chart.setOption({
            animation: false,
            backgroundColor: '#fff',
            textStyle: { fontFamily: FONT },
            grid: grids,
            xAxis: xAxes,
            yAxis: yAxes,
            series: series,
            graphic: notes
        });
    </script>
</body>

</html>
